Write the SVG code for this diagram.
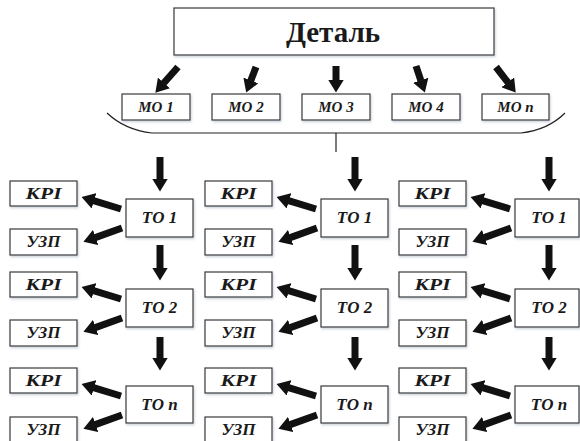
<svg xmlns="http://www.w3.org/2000/svg" width="580" height="441" viewBox="0 0 580 441">
<style>
.box{fill:#fff;stroke:#3a3a3a;stroke-width:1.2;filter:url(#sh)}
.ar{stroke:#111;stroke-width:7;fill:none;marker-end:url(#ah)}
.br{stroke:#222;stroke-width:1.2;fill:none}
</style>
<defs>
<filter id="sh" x="-20%" y="-20%" width="140%" height="150%">
<feDropShadow dx="1" dy="1.5" stdDeviation="1.2" flood-color="#7a8aa0" flood-opacity="0.4"/>
</filter>
<marker id="ah" markerUnits="userSpaceOnUse" markerWidth="13" markerHeight="16" viewBox="0 0 13 16" refX="0.5" refY="8" orient="auto">
<path d="M0,0 L13,8 L0,16 Z" fill="#111"/>
</marker>
</defs>

<g id="detal">
<rect class="box" x="174" y="8" width="320" height="47"/>
<text x="333" y="42" font-family="Liberation Serif" font-weight="bold" font-size="29" fill="#1a1a1a" text-anchor="middle">Деталь</text>
</g>

<g font-family="Liberation Serif" font-weight="bold" font-style="italic" font-size="15" fill="#1a1a1a" text-anchor="middle">
<g id="mo1"><rect class="box" x="122" y="94" width="68" height="26"/><text x="156" y="112">МО 1</text></g>
<g id="mo2"><rect class="box" x="212" y="94" width="68" height="26"/><text x="246" y="112">МО 2</text></g>
<g id="mo3"><rect class="box" x="302" y="94" width="68" height="26"/><text x="336" y="112">МО 3</text></g>
<g id="mo4"><rect class="box" x="392" y="94" width="68" height="26"/><text x="426" y="112">МО 4</text></g>
<g id="mon"><rect class="box" x="482" y="94" width="67" height="26"/><text x="515.5" y="112">МО n</text></g>
</g>

<g id="brace">
<path class="br" d="M107,113 Q125,130 152,133 L521,133 Q548,130 565,113"/>
<line class="br" x1="336" y1="133" x2="336" y2="152"/>
</g>

<g id="connectors">
<line class="ar" x1="178" y1="67" x2="163.6" y2="83.3"/>
<line class="ar" x1="256" y1="67" x2="250.7" y2="80.9"/>
<line class="ar" x1="336" y1="66" x2="336" y2="80"/>
<line class="ar" x1="416" y1="66" x2="420.9" y2="80.7"/>
<line class="ar" x1="496" y1="67" x2="508.1" y2="82.7"/>
<line class="ar" x1="160" y1="157" x2="160" y2="179"/>
<line class="ar" x1="160" y1="245" x2="160" y2="268"/>
<line class="ar" x1="160" y1="337" x2="160" y2="358"/>
<line class="ar" x1="121" y1="209" x2="93.5" y2="200.7"/>
<line class="ar" x1="122" y1="228" x2="95.2" y2="237.6"/>
<line class="ar" x1="121" y1="299" x2="93.5" y2="290.7"/>
<line class="ar" x1="122" y1="318" x2="95.2" y2="327.6"/>
<line class="ar" x1="121" y1="396" x2="93.5" y2="387.7"/>
<line class="ar" x1="122" y1="415" x2="95.2" y2="424.6"/>
<line class="ar" x1="355" y1="157" x2="355" y2="179"/>
<line class="ar" x1="355" y1="245" x2="355" y2="268"/>
<line class="ar" x1="355" y1="337" x2="355" y2="358"/>
<line class="ar" x1="316" y1="209" x2="288.5" y2="200.7"/>
<line class="ar" x1="317" y1="228" x2="290.2" y2="237.6"/>
<line class="ar" x1="316" y1="299" x2="288.5" y2="290.7"/>
<line class="ar" x1="317" y1="318" x2="290.2" y2="327.6"/>
<line class="ar" x1="316" y1="396" x2="288.5" y2="387.7"/>
<line class="ar" x1="317" y1="415" x2="290.2" y2="424.6"/>
<line class="ar" x1="549" y1="157" x2="549" y2="179"/>
<line class="ar" x1="549" y1="245" x2="549" y2="268"/>
<line class="ar" x1="549" y1="337" x2="549" y2="358"/>
<line class="ar" x1="510" y1="209" x2="482.5" y2="200.7"/>
<line class="ar" x1="511" y1="228" x2="484.2" y2="237.6"/>
<line class="ar" x1="510" y1="299" x2="482.5" y2="290.7"/>
<line class="ar" x1="511" y1="318" x2="484.2" y2="327.6"/>
<line class="ar" x1="510" y1="396" x2="482.5" y2="387.7"/>
<line class="ar" x1="511" y1="415" x2="484.2" y2="424.6"/>
</g>

<g font-family="Liberation Serif" font-weight="bold" font-style="italic" font-size="16" fill="#1a1a1a" text-anchor="middle">
<g id="c1_to1"><rect class="box" x="126" y="199" width="67" height="38"/><text x="159.5" y="223" font-size="17">ТО 1</text></g>
<g id="c1_kri1"><rect class="box" x="10" y="181" width="67" height="25"/><text x="43.5" y="199" textLength="36" lengthAdjust="spacingAndGlyphs">КРІ</text></g>
<g id="c1_uzp1"><rect class="box" x="10" y="229" width="67" height="26"/><text x="43.5" y="247" textLength="34" lengthAdjust="spacingAndGlyphs">УЗП</text></g>
<g id="c1_to2"><rect class="box" x="126" y="289" width="67" height="38"/><text x="159.5" y="313" font-size="17">ТО 2</text></g>
<g id="c1_kri2"><rect class="box" x="10" y="272" width="67" height="25"/><text x="43.5" y="290" textLength="36" lengthAdjust="spacingAndGlyphs">КРІ</text></g>
<g id="c1_uzp2"><rect class="box" x="10" y="320" width="67" height="26"/><text x="43.5" y="338" textLength="34" lengthAdjust="spacingAndGlyphs">УЗП</text></g>
<g id="c1_ton"><rect class="box" x="126" y="386" width="67" height="37"/><text x="159.5" y="410" font-size="17">ТО n</text></g>
<g id="c1_kri3"><rect class="box" x="10" y="368" width="67" height="25"/><text x="43.5" y="386" textLength="36" lengthAdjust="spacingAndGlyphs">КРІ</text></g>
<g id="c1_uzp3"><rect class="box" x="10" y="417" width="67" height="30"/><text x="43.5" y="435" textLength="34" lengthAdjust="spacingAndGlyphs">УЗП</text></g>

<g id="c2_to1"><rect class="box" x="321" y="199" width="67" height="38"/><text x="354.5" y="223" font-size="17">ТО 1</text></g>
<g id="c2_kri1"><rect class="box" x="205" y="181" width="67" height="25"/><text x="238.5" y="199" textLength="36" lengthAdjust="spacingAndGlyphs">КРІ</text></g>
<g id="c2_uzp1"><rect class="box" x="205" y="229" width="67" height="26"/><text x="238.5" y="247" textLength="34" lengthAdjust="spacingAndGlyphs">УЗП</text></g>
<g id="c2_to2"><rect class="box" x="321" y="289" width="67" height="38"/><text x="354.5" y="313" font-size="17">ТО 2</text></g>
<g id="c2_kri2"><rect class="box" x="205" y="272" width="67" height="25"/><text x="238.5" y="290" textLength="36" lengthAdjust="spacingAndGlyphs">КРІ</text></g>
<g id="c2_uzp2"><rect class="box" x="205" y="320" width="67" height="26"/><text x="238.5" y="338" textLength="34" lengthAdjust="spacingAndGlyphs">УЗП</text></g>
<g id="c2_ton"><rect class="box" x="321" y="386" width="67" height="37"/><text x="354.5" y="410" font-size="17">ТО n</text></g>
<g id="c2_kri3"><rect class="box" x="205" y="368" width="67" height="25"/><text x="238.5" y="386" textLength="36" lengthAdjust="spacingAndGlyphs">КРІ</text></g>
<g id="c2_uzp3"><rect class="box" x="205" y="417" width="67" height="30"/><text x="238.5" y="435" textLength="34" lengthAdjust="spacingAndGlyphs">УЗП</text></g>

<g id="c3_to1"><rect class="box" x="515" y="199" width="64" height="38"/><text x="549" y="223" font-size="17">ТО 1</text></g>
<g id="c3_kri1"><rect class="box" x="399" y="181" width="67" height="25"/><text x="432.5" y="199" textLength="36" lengthAdjust="spacingAndGlyphs">КРІ</text></g>
<g id="c3_uzp1"><rect class="box" x="399" y="229" width="67" height="26"/><text x="432.5" y="247" textLength="34" lengthAdjust="spacingAndGlyphs">УЗП</text></g>
<g id="c3_to2"><rect class="box" x="515" y="289" width="64" height="38"/><text x="549" y="313" font-size="17">ТО 2</text></g>
<g id="c3_kri2"><rect class="box" x="399" y="272" width="67" height="25"/><text x="432.5" y="290" textLength="36" lengthAdjust="spacingAndGlyphs">КРІ</text></g>
<g id="c3_uzp2"><rect class="box" x="399" y="320" width="67" height="26"/><text x="432.5" y="338" textLength="34" lengthAdjust="spacingAndGlyphs">УЗП</text></g>
<g id="c3_ton"><rect class="box" x="515" y="386" width="64" height="37"/><text x="549" y="410" font-size="17">ТО n</text></g>
<g id="c3_kri3"><rect class="box" x="399" y="368" width="67" height="25"/><text x="432.5" y="386" textLength="36" lengthAdjust="spacingAndGlyphs">КРІ</text></g>
<g id="c3_uzp3"><rect class="box" x="399" y="417" width="67" height="30"/><text x="432.5" y="435" textLength="34" lengthAdjust="spacingAndGlyphs">УЗП</text></g>
</g>
</svg>
